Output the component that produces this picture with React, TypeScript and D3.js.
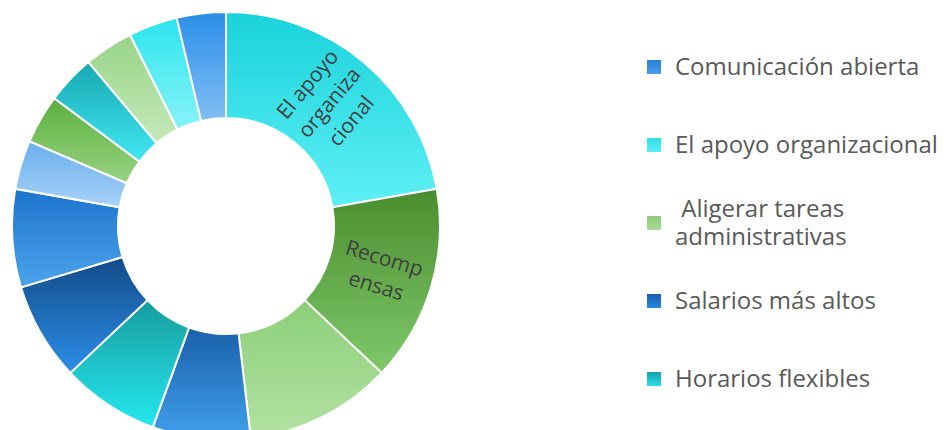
import React from "react";
import * as d3 from "d3";

// Slices clockwise from 12 o'clock
const sliceValues = [6, 4, 3, 2, 2, 2, 2, 1, 1, 1, 1, 1, 1];
const sliceTopColors = [
  "#1ad2db", "#4a8d2f", "#8ccf78", "#1a60aa", "#169c9e", "#124b88", "#1c74cc",
  "#6caeee", "#5cb040", "#17a8b2", "#98d488", "#2ce4ee", "#2a8ee8",
];
const sliceBottomColors = [
  "#5ef0f5", "#7fc96a", "#b3e2a3", "#42a0ec", "#26e8f0", "#2c8ee8", "#4ca4ec",
  "#a6d2f7", "#98d380", "#42e8f2", "#c6e9ba", "#88f4f8", "#82bef3",
];
const sliceLabelLines: (string[] | null)[] = [
  ["El apoyo", "organiza", "cional"],
  ["Recomp", "ensas"],
  null, null, null, null, null, null, null, null, null, null, null,
];

const legendLabels: string[][] = [
  ["Comunicación abierta"],
  ["El apoyo organizacional"],
  [" Aligerar tareas", "administrativas"],
  ["Salarios más altos"],
  ["Horarios flexibles"],
];
const legendTopColors = ["#2a7fd6", "#2edfe8", "#8bcb77", "#1a5eae", "#15a0a8"];
const legendBottomColors = ["#4c9eea", "#5cedf4", "#a9dc99", "#2a88e0", "#28e2ea"];

const W = 946;
const H = 430;
const cx = 226;
const cy = 226;
const outerR = 214;
const innerR = 108;

export default function App() {
  const pie = d3.pie<number>().sort(null).value((d) => d)(sliceValues);
  const arc = d3.arc<d3.PieArcDatum<number>>().innerRadius(innerR).outerRadius(outerR);
  const labelArc = d3
    .arc<d3.PieArcDatum<number>>()
    .innerRadius((innerR + outerR) / 2)
    .outerRadius((innerR + outerR) / 2);

  const legendY = d3.scalePoint<number>().domain(d3.range(legendLabels.length)).range([67, 379]);
  const legendFont = 24;
  const legendLH = 28;

  return (
    <svg
      width={W}
      height={H}
      style={{ position: "absolute", left: 0, top: 0, background: "#fff" }}
      fontFamily="'Open Sans', sans-serif"
    >
      <defs>
        {sliceValues.map((_, i) => (
          <linearGradient key={i} id={`sg${i}`} x1="0" y1="0" x2="0" y2="1">
            <stop offset="0%" stopColor={sliceTopColors[i]} />
            <stop offset="100%" stopColor={sliceBottomColors[i]} />
          </linearGradient>
        ))}
        {legendLabels.map((_, i) => (
          <linearGradient key={i} id={`lg${i}`} x1="0" y1="0" x2="0" y2="1">
            <stop offset="0%" stopColor={legendTopColors[i]} />
            <stop offset="100%" stopColor={legendBottomColors[i]} />
          </linearGradient>
        ))}
      </defs>
      <g transform={`translate(${cx},${cy})`}>
        {pie.map((p, i) => (
          <path key={i} d={arc(p) || ""} fill={`url(#sg${i})`} stroke="#ffffff" strokeWidth={2} />
        ))}
        {pie.map((p, i) => {
          const lines = sliceLabelLines[i];
          if (!lines) return null;
          const [lx, ly] = labelArc.centroid(p);
          const mid = ((p.startAngle + p.endAngle) / 2) * (180 / Math.PI);
          const rot = mid - 90;
          const lh = 28.5;
          const n = lines.length;
          return (
            <text
              key={`l${i}`}
              transform={`translate(${lx},${ly}) rotate(${rot})`}
              textAnchor="middle"
              fontSize={21}
              fill="#404040"
            >
              {lines.map((t, j) => (
                <tspan key={j} x={0} y={(j - (n - 1) / 2) * lh + 7}>
                  {t}
                </tspan>
              ))}
            </text>
          );
        })}
      </g>
      <g>
        {legendLabels.map((lines, i) => {
          const yc = legendY(i) as number;
          const n = lines.length;
          return (
            <g key={i}>
              <rect x={647} y={yc - 7} width={14} height={14} fill={`url(#lg${i})`} />
              <text fontSize={legendFont} fill="#595959" xmlSpace="preserve">
                {lines.map((t, j) => (
                  <tspan key={j} x={675} y={yc + 8 + (j - (n - 1) / 2) * legendLH}>
                    {t}
                  </tspan>
                ))}
              </text>
            </g>
          );
        })}
      </g>
    </svg>
  );
}
